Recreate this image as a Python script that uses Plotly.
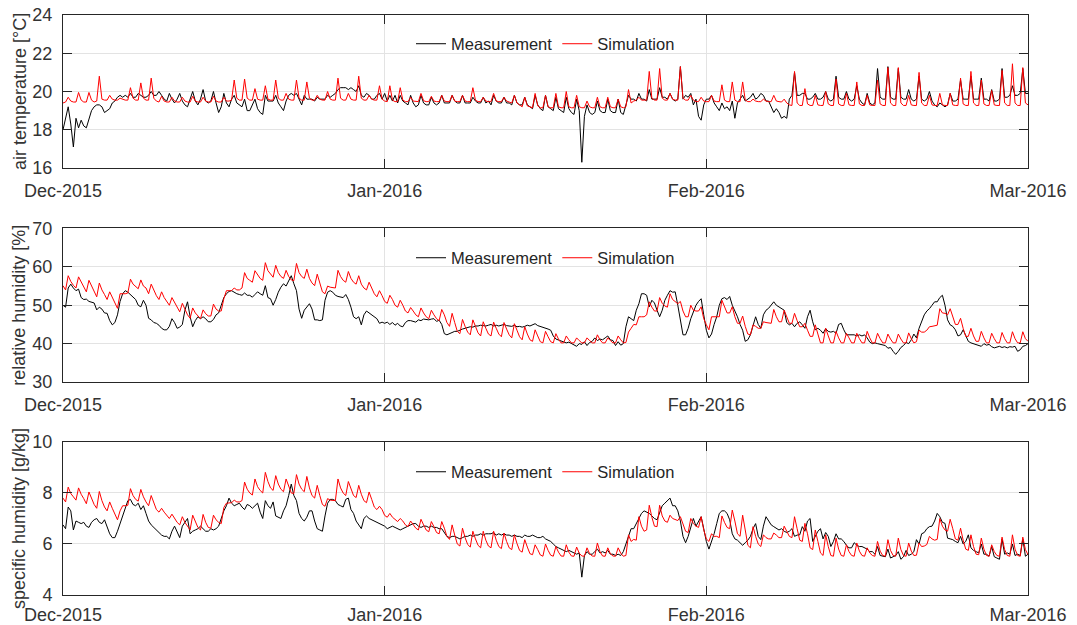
import pandas as pd
import plotly.graph_objects as go

START = "2015-12-01"
STEP = "6h"

# ---- air temperature [°C] (4 readings per day, 6-hourly) ----
temp_meas = [
    18.0, 18.6, 19.2, 18.3,  17.1, 18.6, 18.1, 18.5,  18.2, 18.1, 18.6, 19.0,  19.2, 19.3, 19.3, 19.2,
    18.9, 19.0, 19.1, 19.4,  19.5, 19.7, 19.8, 19.7,  19.8, 19.7, 19.9, 19.7,  19.7, 19.9, 19.8, 19.7,
    19.7, 19.8, 20.0, 19.8,  19.8, 20.0, 19.8, 19.6,  19.5, 19.9, 19.6, 19.4,  19.6, 19.9, 19.5, 19.3,
    19.2, 19.6, 20.0, 19.5,  19.3, 19.6, 20.1, 19.5,  19.4, 19.5, 20.0, 19.4,  18.9, 19.2, 19.9, 19.4,
    19.2, 19.6, 19.8, 19.4,  19.3, 19.2, 19.6, 19.0,  19.0, 19.3, 19.6, 19.1,  18.9, 18.8, 19.8, 19.5,
    19.5, 19.5, 19.8, 19.4,  19.2, 19.0, 19.5, 19.8,  19.9, 19.8, 19.9, 19.6,  19.3, 19.8, 19.6, 19.6,
    19.6, 19.5, 19.7, 19.6,  19.6, 19.6, 19.8, 19.7,  19.8, 19.9, 20.1, 20.2,  20.2, 20.2, 20.1, 20.2,
    20.1, 20.0, 20.3, 19.8,  19.7, 19.9, 19.8, 19.6,  19.6, 19.8, 19.9, 19.6,  19.9, 19.5, 19.8, 19.5,
    19.8, 19.4, 19.8, 19.5,  19.4, 19.3, 19.8, 19.4,  19.2, 19.3, 19.8, 19.4,  19.3, 19.3, 19.7, 19.4,
    19.3, 19.4, 19.8, 19.4,  19.4, 19.4, 19.8, 19.5,  19.4, 19.4, 19.8, 19.4,  19.4, 19.4, 19.7, 19.5,
    19.4, 19.4, 19.7, 19.4,  19.5, 19.3, 19.8, 19.5,  19.4, 19.4, 19.7, 19.4,  19.4, 19.3, 19.8, 19.4,
    19.3, 19.3, 19.7, 19.3,  19.2, 19.1, 19.8, 19.3,  19.1, 19.0, 19.8, 19.2,  19.1, 19.0, 19.7, 19.1,
    19.0, 18.9, 19.7, 19.1,  18.9, 18.8, 19.6, 19.0,  16.3, 18.7, 19.3, 18.9,  18.8, 18.9, 19.5, 19.0,
    18.9, 18.9, 19.6, 19.0,  18.9, 18.9, 19.6, 18.9,  18.8, 19.3, 19.8, 19.6,  19.6, 19.5, 19.9, 19.6,
    19.6, 19.5, 20.1, 19.6,  19.6, 19.6, 20.2, 19.7,  19.7, 19.6, 19.9, 19.6,  19.5, 19.6, 21.3, 19.6,
    19.8, 19.7, 19.9, 19.3,  19.6, 18.7, 18.5, 19.3,  19.6, 19.6, 19.8, 19.4,  19.2, 19.0, 19.4, 19.1,
    19.2, 19.0, 19.5, 18.6,  19.4, 19.6, 19.8, 19.5,  19.6, 19.7, 19.9, 19.6,  19.7, 19.9, 19.8, 19.5,
    19.5, 19.2, 18.9, 19.1,  18.9, 18.6, 18.7, 18.6,  19.6, 19.8, 21.0, 19.8,  19.8, 19.9, 19.9, 19.6,
    19.6, 19.7, 19.9, 19.6,  19.6, 19.7, 20.0, 19.6,  19.5, 19.6, 20.8, 19.7,  19.6, 19.6, 20.0, 19.6,
    19.5, 19.6, 20.3, 19.6,  19.4, 19.3, 19.9, 19.4,  19.3, 19.4, 21.2, 19.7,  19.6, 19.6, 21.3, 19.7,
    19.6, 19.6, 21.2, 19.7,  19.6, 19.6, 20.1, 19.6,  19.5, 19.6, 20.8, 19.6,  19.5, 19.6, 20.0, 19.5,
    19.3, 19.2, 19.4, 19.3,  19.2, 19.3, 19.9, 19.5,  19.5, 19.6, 20.6, 19.6,  19.6, 19.6, 20.8, 19.6,
    19.6, 19.6, 20.7, 19.6,  19.6, 19.5, 20.1, 19.5,  19.5, 19.6, 21.2, 19.7,  19.7, 19.8, 20.3, 19.8,
    19.8, 19.9, 21.2, 19.9,
    19.9,
]
temp_sim = [
    19.4, 19.45, 19.7, 19.5,  19.45, 19.45, 19.95, 19.55,  19.45, 19.45, 19.95, 19.55,  19.45, 19.5, 20.8, 19.6,
    19.55, 19.55, 19.8, 19.6,  19.55, 19.55, 19.65, 19.6,  19.55, 19.55, 20.2, 19.65,  19.55, 19.55, 20.45, 19.65,
    19.55, 19.55, 20.7, 19.65,  19.5, 19.45, 19.75, 19.5,  19.45, 19.45, 19.7, 19.5,  19.45, 19.45, 19.7, 19.5,
    19.45, 19.45, 19.75, 19.5,  19.45, 19.45, 19.7, 19.5,  19.45, 19.45, 19.75, 19.5,  19.45, 19.45, 19.7, 19.5,
    19.5, 19.55, 20.6, 19.65,  19.55, 19.55, 20.65, 19.65,  19.55, 19.55, 20.15, 19.6,  19.55, 19.55, 20.3, 19.6,
    19.55, 19.55, 20.6, 19.65,  19.55, 19.55, 19.9, 19.6,  19.55, 19.55, 20.6, 19.65,  19.55, 19.55, 20.5, 19.65,
    19.55, 19.55, 19.8, 19.6,  19.55, 19.55, 20.0, 19.6,  19.55, 19.55, 20.7, 19.65,  19.55, 19.55, 19.9, 19.6,
    19.55, 19.55, 20.8, 19.65,  19.55, 19.55, 19.8, 19.6,  19.55, 19.55, 20.3, 19.6,  19.5, 19.47, 20.3, 19.55,
    19.47, 19.47, 20.2, 19.55,  19.47, 19.47, 19.7, 19.5,  19.47, 19.47, 19.9, 19.52,  19.47, 19.47, 19.75, 19.5,
    19.47, 19.47, 19.8, 19.5,  19.47, 19.47, 19.8, 19.5,  19.47, 19.47, 19.8, 19.5,  19.47, 19.47, 20.2, 19.55,
    19.47, 19.47, 19.7, 19.5,  19.47, 19.47, 19.9, 19.5,  19.47, 19.47, 19.7, 19.5,  19.45, 19.4, 19.8, 19.4,
    19.3, 19.2, 19.7, 19.25,  19.2, 19.15, 19.9, 19.25,  19.15, 19.15, 19.8, 19.2,  19.15, 19.15, 19.9, 19.2,
    19.15, 19.15, 20.0, 19.2,  19.15, 19.15, 19.8, 19.2,  19.15, 19.15, 19.5, 19.2,  19.15, 19.15, 19.7, 19.2,
    19.15, 19.15, 19.7, 19.2,  19.15, 19.15, 19.6, 19.2,  19.15, 19.2, 20.1, 19.4,  19.5, 19.55, 19.7, 19.55,
    19.55, 19.55, 21.05, 19.65,  19.55, 19.55, 21.2, 19.65,  19.55, 19.55, 19.9, 19.6,  19.55, 19.55, 21.3, 19.65,
    19.55, 19.55, 19.8, 19.55,  19.47, 19.47, 19.7, 19.5,  19.47, 19.47, 19.8, 19.5,  19.47, 19.47, 20.35, 19.55,
    19.47, 19.47, 20.5, 19.55,  19.47, 19.47, 20.5, 19.55,  19.47, 19.47, 19.6, 19.5,  19.47, 19.47, 19.6, 19.5,
    19.47, 19.47, 19.8, 19.5,  19.47, 19.45, 19.6, 19.4,  19.3, 19.27, 21.05, 19.4,  19.27, 19.27, 20.15, 19.35,
    19.27, 19.27, 19.8, 19.3,  19.27, 19.27, 20.0, 19.35,  19.27, 19.27, 20.65, 19.35,  19.27, 19.27, 19.9, 19.3,
    19.27, 19.27, 20.5, 19.35,  19.27, 19.27, 19.8, 19.3,  19.27, 19.27, 20.6, 19.35,  19.27, 19.27, 21.25, 19.4,
    19.27, 19.27, 21.25, 19.4,  19.27, 19.27, 19.8, 19.3,  19.27, 19.27, 21.0, 19.4,  19.27, 19.27, 19.8, 19.3,
    19.27, 19.27, 19.9, 19.3,  19.27, 19.27, 19.9, 19.3,  19.27, 19.27, 20.7, 19.35,  19.27, 19.27, 21.05, 19.4,
    19.27, 19.27, 20.6, 19.35,  19.27, 19.27, 20.05, 19.3,  19.27, 19.27, 21.1, 19.4,  19.27, 19.27, 21.45, 19.4,
    19.27, 19.27, 21.25, 19.4,
    19.3,
]

# ---- relative humidity [%] ----
rh_meas = [
    50.0, 49.5, 54.5, 55.5,  54.5, 53.8, 54.2, 52.0,  51.5, 51.6, 51.0, 50.8,  50.6, 48.8, 49.5, 49.0,
    48.0, 47.9, 46.0, 44.9,  45.5, 47.5, 51.0, 53.0,  53.8, 53.4, 52.8, 52.0,  51.5, 50.0, 49.6, 51.3,
    50.0, 46.6, 46.2, 45.5,  45.3, 44.8, 44.0, 43.6,  43.6, 44.5, 46.5, 45.5,  44.0, 44.3, 45.0, 48.7,
    50.9, 47.0, 44.4, 46.0,  47.0, 46.5, 47.0, 46.5,  45.7, 45.7, 46.3, 47.5,  48.0, 50.0, 52.0, 53.0,
    53.6, 53.8, 53.3, 53.0,  52.8, 52.6, 53.2, 52.6,  52.6, 52.1, 52.8, 53.5,  53.0, 52.6, 55.1, 52.0,
    51.7, 50.0, 51.5, 53.4,  54.7, 55.6, 55.0, 56.5,  57.7, 55.6, 53.8, 49.0,  46.6, 48.7, 49.5, 50.4,
    49.0, 46.2, 46.2, 46.0,  46.2, 51.3, 53.4, 53.8,  53.4, 52.6, 52.3, 52.1,  52.0, 52.8, 51.5, 49.5,
    47.0, 46.5, 47.0, 44.9,  47.5, 48.5, 48.0, 47.5,  47.0, 46.5, 45.3, 45.6,  45.3, 45.6, 45.0, 45.5,
    44.8, 45.3, 44.6, 44.4,  45.5, 46.0, 46.0, 45.7,  45.6, 46.2, 46.0, 46.4,  46.3, 46.2, 46.4, 46.5,
    45.8, 46.1, 45.0, 42.6,  42.3, 42.6, 43.0, 43.2,  43.2, 43.6, 43.8, 44.0,  44.2, 44.4, 44.3, 44.6,
    44.6, 44.8, 44.7, 44.6,  44.8, 45.0, 44.6, 44.8,  44.6, 44.8, 45.0, 44.7,  44.6, 44.5, 44.8, 44.4,
    44.5, 44.3, 44.5, 44.8,  44.6, 45.0, 45.2, 44.7,  44.5, 44.2, 44.0, 43.8,  43.5, 42.0, 41.2, 41.0,
    40.8, 40.6, 40.2, 40.4,  40.0, 39.6, 39.3, 40.0,  39.8, 40.5, 39.5, 40.3,  40.6, 41.5, 40.8, 41.2,
    41.0, 41.5, 42.0, 41.0,  40.8, 39.5, 40.5, 39.6,  40.0, 44.4, 47.0, 46.5,  46.0, 48.7, 50.4, 53.0,
    53.0, 52.6, 49.6, 51.3,  50.6, 48.7, 47.0, 48.7,  51.3, 52.6, 53.8, 53.4,  53.5, 50.0, 46.5, 42.3,
    42.3, 44.0, 46.5, 48.5,  50.0, 51.0, 51.7, 47.5,  43.5, 41.5, 42.5, 45.0,  47.0, 50.0, 51.7, 52.0,
    51.5, 52.3, 50.0, 48.5,  47.0, 45.0, 43.5, 40.6,  41.0, 42.3, 44.5, 47.0,  45.0, 44.0, 47.5, 48.7,
    49.2, 50.0, 50.9, 50.0,  49.5, 49.0, 48.7, 45.5,  44.9, 45.3, 44.4, 45.3,  45.7, 44.9, 44.0, 47.0,
    48.7, 45.7, 43.6, 44.0,  43.5, 42.7, 43.9, 43.2,  43.0, 43.2, 42.7, 45.0,  45.3, 43.6, 42.3, 42.3,
    42.3, 42.3, 42.0, 42.3,  42.0, 42.3, 41.5, 40.4,  40.0, 40.2, 40.0, 39.8,  39.7, 39.5, 38.8, 39.0,
    38.0, 37.2, 38.0, 39.0,  39.5, 40.3, 40.0, 41.0,  42.5, 41.5, 44.0, 46.0,  47.5, 48.5, 49.1, 50.0,
    50.9, 50.9, 52.0, 52.6,  50.0, 46.2, 44.9, 44.5,  43.6, 42.0, 42.3, 43.6,  42.0, 40.6, 40.2, 40.0,
    39.8, 39.5, 39.3, 40.0,  39.6, 39.8, 39.2, 38.9,  39.1, 39.3, 39.0, 39.2,  38.9, 39.2, 39.1, 39.3,
    38.0, 38.4, 39.3, 39.5,
    40.0,
]
rh_sim = [
    55.1, 54.0, 57.7, 56.2,  55.2, 54.5, 57.4, 56.0,  54.8, 53.5, 56.5, 55.0,  53.5, 52.2, 55.8, 54.0,
    52.8, 51.5, 53.5, 52.0,  50.5, 49.2, 53.0, 53.0,  53.0, 53.2, 56.8, 55.5,  54.8, 54.3, 56.6, 55.0,
    54.5, 53.0, 55.5, 54.0,  52.5, 51.5, 53.5, 52.0,  51.0, 50.0, 52.0, 50.8,  49.5, 48.3, 50.5, 49.0,
    47.5, 46.6, 49.3, 48.0,  47.2, 46.5, 48.8, 47.8,  47.2, 47.2, 50.3, 49.0,  48.5, 48.5, 51.7, 53.8,
    53.8, 53.8, 54.5, 54.0,  54.0, 54.5, 58.5, 57.0,  56.5, 56.0, 59.0, 57.8,  57.0, 56.5, 61.1, 59.0,
    58.0, 57.3, 60.4, 58.5,  57.5, 57.0, 59.1, 57.5,  56.6, 56.4, 60.9, 58.5,  57.5, 57.0, 59.4, 57.0,
    55.8, 55.1, 58.1, 55.5,  53.5, 53.0, 55.0, 54.7,  54.6, 54.5, 59.1, 57.5,  56.5, 56.0, 58.8, 57.0,
    56.0, 55.5, 57.7, 55.5,  54.5, 54.0, 56.0, 54.5,  53.0, 52.2, 53.8, 52.5,  51.0, 50.5, 52.6, 51.5,
    50.0, 49.5, 51.3, 50.0,  48.5, 48.0, 49.4, 48.5,  47.5, 47.0, 49.3, 48.0,  47.0, 46.5, 48.7, 47.5,
    46.5, 46.0, 48.9, 47.5,  45.5, 44.5, 47.9, 45.5,  43.2, 42.6, 46.3, 44.5,  43.0, 42.3, 46.2, 44.5,
    42.8, 42.0, 45.7, 44.0,  42.5, 42.0, 45.6, 44.0,  42.5, 41.8, 45.5, 43.8,  42.3, 41.5, 45.2, 43.5,
    41.8, 41.0, 44.4, 42.5,  41.0, 40.6, 43.6, 42.0,  40.5, 40.2, 43.2, 41.8,  40.5, 40.2, 42.6, 41.2,
    40.2, 40.2, 42.0, 41.0,  40.2, 40.2, 41.5, 40.8,  40.2, 40.2, 41.5, 40.8,  40.2, 40.2, 42.3, 41.0,
    40.2, 40.2, 41.5, 40.8,  40.2, 40.2, 42.0, 41.0,  40.2, 40.3, 43.0, 44.0,  45.0, 44.9, 47.0, 47.0,
    47.0, 47.5, 50.9, 49.5,  48.5, 48.5, 52.0, 50.5,  49.8, 49.5, 53.0, 51.5,  51.0, 50.4, 51.0, 48.5,
    47.0, 47.0, 50.0, 48.7,  48.5, 48.5, 49.6, 46.5,  44.9, 43.6, 47.0, 47.0,  47.0, 47.0, 51.3, 49.5,
    48.0, 48.0, 49.6, 47.0,  45.3, 45.3, 47.2, 44.5,  42.5, 42.3, 44.9, 44.5,  44.0, 44.0, 45.7, 45.5,
    45.3, 45.3, 48.9, 47.0,  45.7, 45.7, 48.7, 47.0,  45.3, 45.3, 47.9, 46.0,  44.4, 44.4, 45.3, 43.5,
    41.9, 41.9, 44.9, 42.5,  40.2, 40.2, 44.0, 42.0,  40.2, 40.2, 43.2, 41.5,  40.2, 40.2, 42.7, 41.5,
    40.2, 40.2, 42.7, 41.3,  40.2, 40.2, 43.2, 41.5,  40.2, 40.2, 42.7, 41.3,  40.2, 40.2, 42.5, 41.2,
    40.2, 40.2, 42.5, 41.2,  40.2, 40.2, 42.8, 41.3,  40.2, 40.5, 43.5, 43.0,  43.0, 43.5, 44.4, 44.5,
    44.6, 44.8, 49.1, 48.0,  47.9, 47.5, 49.1, 47.0,  45.0, 45.0, 46.6, 44.0,  41.9, 41.9, 44.0, 42.0,
    40.6, 40.6, 43.2, 41.5,  40.2, 40.2, 42.7, 41.3,  40.2, 40.2, 42.9, 41.3,  40.2, 40.2, 43.1, 41.3,
    40.2, 40.2, 43.1, 41.3,
    40.6,
]

# ---- specific humidity [g/kg] ----
sh_meas = [
    6.75, 6.6, 7.45, 7.3,  6.55, 6.9, 6.85, 6.8,  6.85, 6.7, 6.65, 6.85,  6.95, 7.0, 6.85, 6.8,
    6.95, 6.7, 6.4, 6.25,  6.25, 6.5, 6.8, 7.1,  7.4, 7.7, 7.75, 7.55,  7.5, 7.6, 7.35, 7.5,
    7.2, 6.9, 6.75, 6.65,  6.55, 6.45, 6.35, 6.3,  6.3, 6.2, 6.5, 6.7,  6.5, 6.25, 6.7, 6.85,
    7.0, 6.4, 6.5, 6.55,  6.6, 6.7, 6.6, 6.5,  6.5, 6.6, 6.55, 6.6,  6.7, 7.0, 7.3, 7.5,
    7.8, 7.6, 7.5, 7.55,  7.6, 7.45, 7.35, 7.55,  7.5, 7.4, 7.5, 7.6,  7.25, 7.0, 7.7, 7.5,
    7.4, 7.65, 7.1, 7.05,  7.0, 7.3, 7.5, 7.9,  8.35, 7.9, 7.7, 7.2,  7.0, 6.9, 7.05, 7.3,
    7.3, 6.9, 6.6, 6.55,  6.5, 7.1, 7.6, 7.75,  7.75, 7.7, 7.55, 7.5,  7.45, 7.75, 7.8, 7.35,
    7.2, 6.9, 6.75, 6.6,  7.0, 7.1, 7.0, 6.95,  6.9, 6.85, 6.8, 6.75,  6.7, 6.6, 6.65, 6.7,
    6.65, 6.6, 6.55, 6.6,  6.65, 6.7, 6.75, 6.8,  6.8, 6.7, 6.65, 6.7,  6.7, 6.65, 6.7, 6.65,
    6.65, 6.6, 6.6, 6.45,  6.3, 6.25, 6.3, 6.3,  6.25, 6.2, 6.25, 6.3,  6.3, 6.35, 6.3, 6.35,
    6.35, 6.4, 6.35, 6.4,  6.4, 6.4, 6.45, 6.35,  6.4, 6.35, 6.4, 6.35,  6.35, 6.3, 6.35, 6.3,
    6.3, 6.25, 6.35, 6.3,  6.3, 6.35, 6.3, 6.25,  6.25, 6.3, 6.2, 6.15,  6.1, 6.0, 5.9, 5.85,
    5.8, 5.75, 5.7, 5.75,  5.7, 5.65, 5.6, 5.65,  4.7, 5.55, 5.7, 5.6,  5.6, 5.7, 5.8, 5.65,
    5.7, 5.65, 5.75, 5.6,  5.6, 5.55, 5.6, 5.55,  5.7, 6.0, 6.3, 6.6,  6.6, 6.8, 7.0, 7.2,
    7.3, 7.25, 7.2, 7.1,  7.0, 6.95, 7.2, 7.5,  7.6, 7.7, 7.8, 7.5,  7.5, 7.3, 6.9, 6.3,
    6.05, 6.3, 6.7, 7.0,  6.7, 6.9, 7.07, 6.6,  6.1, 5.8, 6.1, 6.4,  6.8, 7.2, 7.3, 7.3,
    7.2, 6.95, 6.4, 6.2,  6.15, 6.05, 5.95, 6.05,  6.15, 6.3, 6.6, 6.8,  6.3, 6.17, 6.7, 7.07,
    6.9, 6.75, 6.68, 6.6,  6.55, 6.6, 6.5, 6.45,  6.5, 6.6, 6.3, 6.35,  6.36, 6.68, 6.5, 6.9,
    7.0, 6.1, 6.3, 6.5,  6.6, 6.2, 6.45, 6.3,  5.9, 6.1, 6.4, 6.2,  6.2, 6.1, 5.95, 5.85,
    5.85, 6.05, 5.95, 5.9,  5.9, 5.85, 5.8, 5.7,  5.7, 5.6, 5.9, 5.55,  5.52, 5.5, 5.8, 5.45,
    5.5, 5.55, 5.7, 5.4,  5.5, 5.75, 5.55, 5.6,  5.7, 6.17, 6.0, 6.4,  6.45, 6.6, 6.68, 6.7,
    6.9, 7.2, 7.07, 6.85,  6.81, 6.23, 6.2, 6.17,  6.1, 6.05, 6.3, 6.0,  6.1, 6.36, 5.85, 5.75,
    5.7, 5.65, 6.0, 5.6,  5.6, 5.52, 5.9, 5.5,  5.45, 5.4, 6.2, 5.6,  5.65, 5.6, 6.0, 5.55,
    5.6, 5.55, 6.2, 5.52,
    5.6,
]
sh_sim = [
    7.80, 7.65, 8.23, 7.98,  7.85, 7.72, 8.20, 7.95,  7.78, 7.58, 8.04, 7.80,  7.55, 7.40, 8.06, 7.70,
    7.45, 7.30, 7.65, 7.40,  7.15, 6.95, 7.30, 7.50,  7.50, 7.52, 8.17, 7.90,  7.75, 7.68, 8.14, 7.85,
    7.65, 7.50, 7.90, 7.60,  7.35, 7.25, 7.40, 7.25,  7.10, 7.00, 7.17, 7.00,  6.85, 6.75, 7.07, 6.85,
    6.70, 6.55, 7.13, 6.85,  6.65, 6.55, 7.16, 6.85,  6.65, 6.62, 7.13, 6.95,  6.85, 6.80, 7.43, 7.60,
    7.62, 7.62, 7.72, 7.65,  7.65, 7.70, 8.43, 8.15,  8.00, 7.92, 8.55, 8.25,  8.10, 8.00, 8.81, 8.45,
    8.20, 8.10, 8.68, 8.35,  8.15, 8.05, 8.55, 8.25,  8.00, 7.98, 8.72, 8.35,  8.15, 8.05, 8.65, 8.20,
    7.90, 7.80, 8.30, 7.90,  7.55, 7.48, 7.78, 7.72,  7.70, 7.70, 8.55, 8.20,  8.00, 7.90, 8.45, 8.15,
    7.90, 7.82, 8.30, 7.95,  7.70, 7.62, 8.04, 7.75,  7.45, 7.35, 7.48, 7.35,  7.12, 7.05, 7.20, 7.05,
    6.95, 6.88, 7.00, 6.90,  6.75, 6.68, 6.90, 6.78,  6.62, 6.55, 6.97, 6.75,  6.55, 6.48, 6.88, 6.68,
    6.45, 6.40, 6.88, 6.62,  6.30, 6.18, 6.75, 6.35,  6.00, 5.92, 6.62, 6.25,  5.98, 5.88, 6.50, 6.20,
    5.95, 5.85, 6.50, 6.15,  5.92, 5.85, 6.50, 6.15,  5.90, 5.82, 6.43, 6.10,  5.85, 5.78, 6.36, 6.02,
    5.75, 5.68, 6.17, 5.88,  5.62, 5.58, 5.97, 5.78,  5.57, 5.52, 6.00, 5.75,  5.56, 5.52, 5.90, 5.68,
    5.53, 5.52, 5.97, 5.68,  5.53, 5.52, 5.88, 5.64,  5.53, 5.52, 5.85, 5.62,  5.53, 5.52, 6.04, 5.70,
    5.53, 5.52, 5.85, 5.62,  5.53, 5.52, 5.85, 5.64,  5.52, 5.55, 6.36, 6.10,  6.18, 6.15, 7.07, 6.70,
    6.50, 6.55, 7.52, 7.05,  6.70, 6.68, 7.52, 7.10,  6.90, 6.85, 7.13, 7.00,  6.95, 6.92, 7.07, 6.75,
    6.50, 6.45, 7.00, 6.80,  6.70, 6.65, 7.07, 6.55,  6.20, 6.10, 6.40, 6.30,  6.30, 6.25, 7.10, 6.85,
    6.65, 6.60, 7.33, 6.90,  6.40, 6.30, 7.13, 6.55,  5.95, 5.85, 6.68, 6.30,  6.00, 5.90, 6.36, 6.25,
    6.20, 6.20, 6.43, 6.35,  6.25, 6.25, 6.70, 6.50,  6.30, 6.25, 7.07, 6.60,  6.15, 6.10, 6.81, 6.40,
    5.85, 5.78, 6.55, 6.10,  5.65, 5.55, 6.36, 5.90,  5.55, 5.52, 6.23, 5.80,  5.55, 5.52, 5.97, 5.70,
    5.55, 5.52, 6.04, 5.72,  5.55, 5.52, 5.85, 5.65,  5.55, 5.52, 6.10, 5.72,  5.55, 5.52, 6.17, 5.75,
    5.55, 5.52, 6.23, 5.78,  5.55, 5.52, 6.04, 5.72,  5.55, 5.56, 6.04, 5.90,  5.92, 5.98, 6.30, 6.20,
    6.15, 6.18, 7.00, 6.70,  6.55, 6.50, 6.97, 6.60,  6.20, 6.15, 6.62, 6.15,  5.80, 5.75, 6.36, 5.90,
    5.60, 5.58, 6.23, 5.80,  5.55, 5.52, 5.97, 5.70,  5.55, 5.52, 6.27, 5.78,  5.55, 5.52, 6.36, 5.80,
    5.55, 5.52, 6.27, 5.78,
    5.58,
]

tick_dates = ["2015-12-01", "2016-01-01", "2016-02-01", "2016-03-03"]
tick_labels = ["Dec-2015", "Jan-2016", "Feb-2016", "Mar-2016"]
x_end = "2016-03-03"

panels = [
    ("air temperature [°C]", temp_meas, temp_sim, [16, 24], [16, 18, 20, 22, 24], [0.7362, 1.0], 0.950, 6),
    ("relative humidity [%]", rh_meas, rh_sim, [30, 70], [30, 40, 50, 60, 70], [0.3672, 0.6319], 0.581, 6),
    ("specific humidity [g/kg]", sh_meas, sh_sim, [4, 10], [4, 6, 8, 10], [0.0, 0.2638], 0.212, 3),
]

FONT = "Liberation Sans, Arial, Helvetica, sans-serif"
AXC = "#262626"
TXT = "#333333"
GRID = "#e3e3e3"

fig = go.Figure()
layout = dict(
    template="none",
    width=1077, height=625,
    margin=dict(l=63, r=49, t=15, b=30, autoexpand=False),
    paper_bgcolor="white", plot_bgcolor="white",
    font=dict(family=FONT, size=18, color=TXT),
    showlegend=True,
    annotations=[],
)

for i, (title, meas, sim, yr, yt, dom, legy, xstand) in enumerate(panels):
    n = i + 1
    xa = "x" if n == 1 else f"x{n}"
    ya = "y" if n == 1 else f"y{n}"
    lg = "legend" if n == 1 else f"legend{n}"
    xm = pd.date_range(START, periods=len(meas), freq=STEP)
    xs = pd.date_range(START, periods=len(sim), freq=STEP)
    fig.add_trace(go.Scatter(x=xm, y=meas, mode="lines", name="Measurement",
                             line=dict(color="#000000", width=1.0),
                             xaxis=xa, yaxis=ya, legend=lg))
    fig.add_trace(go.Scatter(x=xs, y=sim, mode="lines", name="Simulation",
                             line=dict(color="#ff0000", width=1.0),
                             xaxis=xa, yaxis=ya, legend=lg))
    axcommon = dict(showline=True, linecolor=AXC, linewidth=1, mirror="ticks",
                    ticks="inside", ticklen=9, tickwidth=1, tickcolor=AXC,
                    showgrid=True, gridcolor=GRID, gridwidth=1, zeroline=False,
                    automargin=False, ticklabeloverflow="allow",
                    tickfont=dict(family=FONT, size=18, color=TXT))
    xkey = "xaxis" if n == 1 else f"xaxis{n}"
    ykey = "yaxis" if n == 1 else f"yaxis{n}"
    layout[xkey] = dict(axcommon, type="date", range=[START, x_end], domain=[0, 1],
                        anchor=ya, tickmode="array", tickvals=tick_dates,
                        ticktext=tick_labels, ticklabelstandoff=xstand)
    layout[ykey] = dict(axcommon, range=yr, domain=dom, anchor=xa,
                        tickmode="array", tickvals=yt, ticklabelstandoff=6)
    layout[lg] = dict(orientation="h", x=0.5, xanchor="center", y=legy, yanchor="middle",
                      bgcolor="rgba(0,0,0,0)", borderwidth=0,
                      font=dict(family=FONT, size=16.5, color=AXC))
    layout["annotations"].append(dict(
        text=title, textangle=-90, xref="paper", yref="paper",
        x=(19.5 - 63) / 965, y=(dom[0] + dom[1]) / 2, xanchor="center", yanchor="middle",
        showarrow=False, font=dict(family=FONT, size=18, color=TXT)))

fig.update_layout(**layout)
fig.write_html(
    "out.html",
    config={"displayModeBar": False},
    post_script="document.body.style.margin='0';document.body.style.overflow='hidden';",
)
